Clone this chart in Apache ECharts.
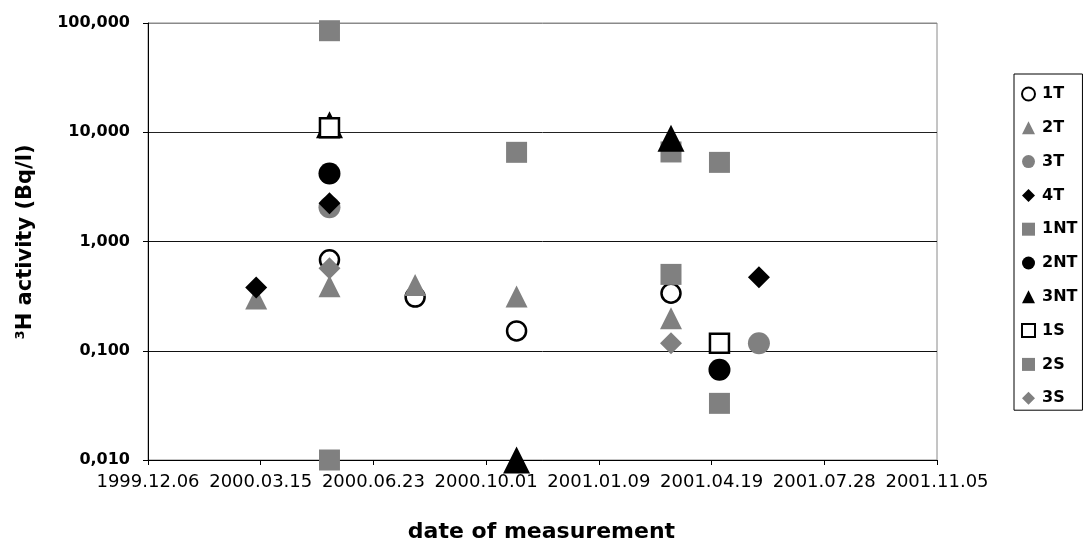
<!DOCTYPE html>
<html>
<head>
<meta charset="utf-8">
<script src="https://cdn.jsdelivr.net/npm/echarts@6/dist/echarts.min.js"></script>
<style>html,body{margin:0;padding:0;background:#fff}#c{width:1083px;height:545px}</style>
</head>
<body>
<div id="c"></div>
<script>
// ---- data (date, 3H activity in Bq/l) ----
const baseDate = '1999-12-06';
const xTickCount = 7;          // ticks every 100 days
const seriesNames = ['1T','2T','3T','4T','1NT','2NT','3NT','1S','2S','3S'];
const s1T  = [['2000-05-15',0.68],['2000-07-30',0.31],['2000-10-28',0.152],['2001-03-14',0.336]];
const s2T  = [['2000-03-11',0.30],['2000-05-15',0.39],['2000-07-30',0.40],['2000-10-28',0.313],['2001-03-14',0.198]];
const s3T  = [['2000-05-15',2.06],['2001-05-31',0.117]];
const s4T  = [['2000-03-11',0.38],['2000-05-15',2.24],['2001-05-31',0.47]];
const s1NT = [['2000-05-15',85],['2000-10-28',6.55],['2001-03-14',6.6],['2001-04-26',5.3]];
const s2NT = [['2000-05-15',4.2],['2001-04-26',0.067]];
const s3NT = [['2000-05-15',11.7],['2000-10-28',0.01],['2001-03-14',8.8]];
const s1S  = [['2000-05-15',11],['2001-04-26',0.117]];
const s2S  = [['2000-05-15',0.01],['2001-03-14',0.50],['2001-04-26',0.033]];
const s3S  = [['2000-05-15',0.57],['2001-03-14',0.117]];

const DAY = 86400000;
function toUTC(s){const p=s.split('-').map(Number);return Date.UTC(p[0],p[1]-1,p[2]);}
const base = toUTC(baseDate);
function dayOff(s){return Math.round((toUTC(s)-base)/DAY);}
function fmtDate(days){
  const d=new Date(base+days*DAY);
  const p=n=>String(n).padStart(2,'0');
  return d.getUTCFullYear()+'.'+p(d.getUTCMonth()+1)+'.'+p(d.getUTCDate());
}
const conv = arr => arr.map(a=>[dayOff(a[0]),a[1]]);

const GRAY='#808080', BLACK='#000000';
const styles = {
  '1T': {symbol:'circle',size:19,itemStyle:{color:'#fff',borderColor:BLACK,borderWidth:2.5}},
  '2T': {symbol:'triangle',size:22,itemStyle:{color:GRAY}},
  '3T': {symbol:'circle',size:22,itemStyle:{color:GRAY}},
  '4T': {symbol:'diamond',size:22,itemStyle:{color:BLACK}},
  '1NT':{symbol:'rect',size:21,itemStyle:{color:GRAY}},
  '2NT':{symbol:'circle',size:22,itemStyle:{color:BLACK}},
  '3NT':{symbol:'triangle',size:27,itemStyle:{color:BLACK}},
  '1S': {symbol:'rect',size:19,itemStyle:{color:'#fff',borderColor:BLACK,borderWidth:2.5}},
  '2S': {symbol:'rect',size:21,itemStyle:{color:GRAY}},
  '3S': {symbol:'diamond',size:22,itemStyle:{color:GRAY}}
};
const dataMap = {'1T':s1T,'2T':s2T,'3T':s3T,'4T':s4T,'1NT':s1NT,'2NT':s2NT,'3NT':s3NT,'1S':s1S,'2S':s2S,'3S':s3S};

const FONT='DejaVu Sans';
const chart = echarts.init(document.getElementById('c'),null,{renderer:'canvas'});
chart.setOption({
  animation:false,
  backgroundColor:'#fff',
  grid:{left:148,right:146,top:23,bottom:85,show:true,borderColor:'#8a8a8a',borderWidth:1,backgroundColor:'#fff'},
  xAxis:{
    type:'value',min:0,max:xTickCount*100,interval:100,
    axisLine:{show:true,onZero:false,lineStyle:{color:'#000',width:1}},
    axisTick:{show:true,inside:false,length:5,lineStyle:{color:'#000'}},
    splitLine:{show:false},
    axisLabel:{margin:13,fontFamily:FONT,fontSize:18,color:'#000',formatter:v=>fmtDate(v)}
  },
  yAxis:{
    type:'log',logBase:10,min:0.01,max:100,
    axisLine:{show:true,lineStyle:{color:'#000',width:1}},
    axisTick:{show:true,inside:false,length:5,lineStyle:{color:'#000'}},
    splitLine:{show:true,lineStyle:{color:['#000','#111','#111','#222','#8a8a8a'],width:1}},
    axisLabel:{margin:18,fontFamily:FONT,fontSize:16,fontWeight:'bold',color:'#000',
      formatter:v=>Number(v).toFixed(3).replace('.',',')}
  },
  legend:{
    orient:'vertical',left:1014,top:74,
    data:seriesNames,
    itemWidth:13,itemHeight:13,itemGap:17.8,
    padding:[12,5,4,7],
    borderColor:'#000',borderWidth:1,backgroundColor:'#fff',
    textStyle:{fontFamily:FONT,fontSize:16,fontWeight:'bold',color:'#000',padding:[0,0,0,2]}
  },
  graphic:[
    {type:'text',left:'center',top:521,style:{text:'date of measurement',font:'bold 22px "DejaVu Sans"',fill:'#000'}},
    {type:'text',x:26,y:242,rotation:Math.PI/2,style:{text:'³H activity (Bq/l)',font:'bold 21px "DejaVu Sans"',fill:'#000',align:'center',verticalAlign:'middle'}}
  ],
  series:seriesNames.map(n=>({
    name:n,type:'scatter',
    symbol:styles[n].symbol,symbolSize:styles[n].size,
    itemStyle:Object.assign({opacity:1},styles[n].itemStyle),
    emphasis:{disabled:true},
    data:conv(dataMap[n])
  }))
});
</script>
</body>
</html>
